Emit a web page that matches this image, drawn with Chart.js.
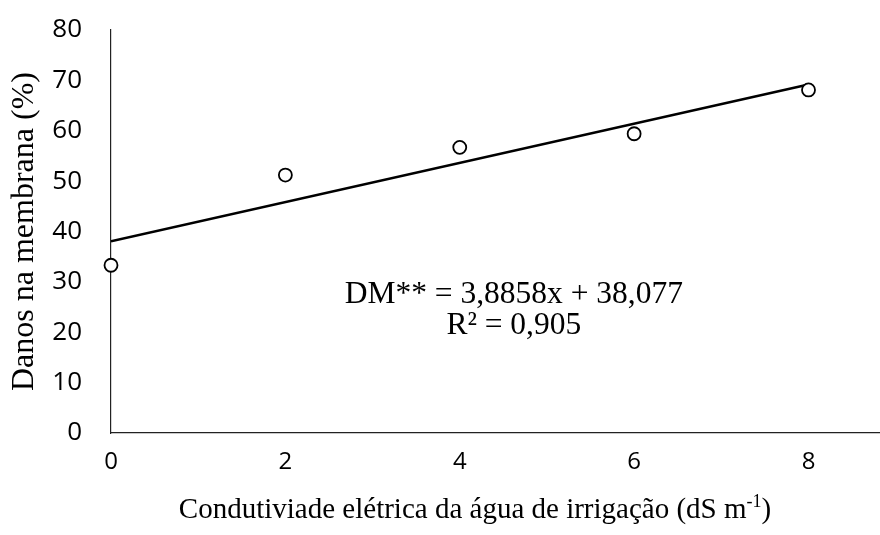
<!DOCTYPE html>
<html><head><meta charset="utf-8">
<script src="https://cdn.jsdelivr.net/npm/chart.js@4/dist/chart.umd.min.js"></script>
<style>html,body{margin:0;padding:0;background:#fff}</style>
</head><body><canvas id="c" width="880" height="535"></canvas>
<script>
const xValues = [0, 2, 4, 6, 8];
const yValues = [33.3, 51.2, 56.7, 59.4, 68.1];
const trendX = [0, 8];
const trendY = [38.077, 69.163];
const xTicks = [0, 2, 4, 6, 8];
const yTicks = [0, 10, 20, 30, 40, 50, 60, 70, 80];
const eqLines = ["DM** = 3,8858x + 38,077", "R² = 0,905"];
const eqPos = [{x: 4.62, y: 27.5}, {x: 4.62, y: 21.3}];
const xTitleMain = "Condutiviade elétrica da água de irrigação (dS m";
const xTitleSup = "-1";
const xTitleEnd = ")";
const yTitle = "Danos na membrana (%)";

const serif = '"Liberation Serif", "Times New Roman", serif';

const textPlugin = {
  id: 'texts',
  afterDatasetsDraw(chart) {
    const {ctx, scales} = chart;
    ctx.save();
    ctx.fillStyle = '#000';
    ctx.font = '31.5px ' + serif;
    ctx.textAlign = 'center';
    ctx.textBaseline = 'middle';
    eqLines.forEach((t, i) => {
      ctx.fillText(t, scales.x.getPixelForValue(eqPos[i].x), scales.y.getPixelForValue(eqPos[i].y));
    });
    const big = '29px ' + serif, small = '18px ' + serif;
    ctx.font = big; const w1 = ctx.measureText(xTitleMain).width; const w3 = ctx.measureText(xTitleEnd).width;
    ctx.font = small; const w2 = ctx.measureText(xTitleSup).width;
    const total = w1 + w2 + w3;
    const cx = 475, by = 518;
    let x = cx - total / 2;
    ctx.textAlign = 'left'; ctx.textBaseline = 'alphabetic';
    ctx.font = big; ctx.fillText(xTitleMain, x, by); x += w1;
    ctx.font = small; ctx.fillText(xTitleSup, x, by - 11); x += w2;
    ctx.font = big; ctx.fillText(xTitleEnd, x, by);
    ctx.restore();
  }
};

new Chart(document.getElementById('c'), {
  type: 'scatter',
  data: {
    datasets: [
      {
        data: xValues.map((x, i) => ({x, y: yValues[i]})),
        pointRadius: 6.5, pointHoverRadius: 6.5,
        pointBackgroundColor: '#fff', pointBorderColor: '#000', pointBorderWidth: 1.8,
        showLine: false, order: 1, clip: false
      },
      {
        data: trendX.map((x, i) => ({x, y: trendY[i]})),
        showLine: true, borderColor: '#000', borderWidth: 2.5, pointRadius: 0, order: 2
      }
    ]
  },
  options: {
    responsive: false, animation: false, devicePixelRatio: 1,
    layout: {autoPadding: false, padding: {top: 30, right: 0, left: 0, bottom: 0}},
    plugins: {legend: {display: false}, tooltip: {enabled: false}},
    scales: {
      x: {
        type: 'linear', min: 0, max: 8.82,
        afterBuildTicks(s) { s.ticks = xTicks.map(v => ({value: v})); },
        afterFit(s) { s.height = 102; s.paddingLeft = 0; s.paddingRight = 0; },
        grid: {display: false, drawTicks: false},
        border: {display: true, color: '#222', width: 1.2},
        ticks: {color: '#000', padding: 15, font: {family: '"Open Sans", sans-serif', size: 24}, maxRotation: 0},
        title: {display: false}
      },
      y: {
        type: 'linear', min: 0, max: 80,
        afterBuildTicks(s) { s.ticks = yTicks.map(v => ({value: v})); },
        afterFit(s) { s.width = 111; s.paddingTop = 0; s.paddingBottom = 0; },
        grid: {display: false, drawTicks: false},
        border: {display: true, color: '#222', width: 1.2},
        ticks: {color: '#000', padding: 29, font: {family: '"Open Sans", sans-serif', size: 26}},
        title: {display: true, text: yTitle, color: '#000', padding: {top: 5, bottom: 0},
          font: {family: '"Liberation Serif", "Times New Roman", serif', size: 32}}
      }
    }
  },
  plugins: [textPlugin]
});
</script>
</body></html>
